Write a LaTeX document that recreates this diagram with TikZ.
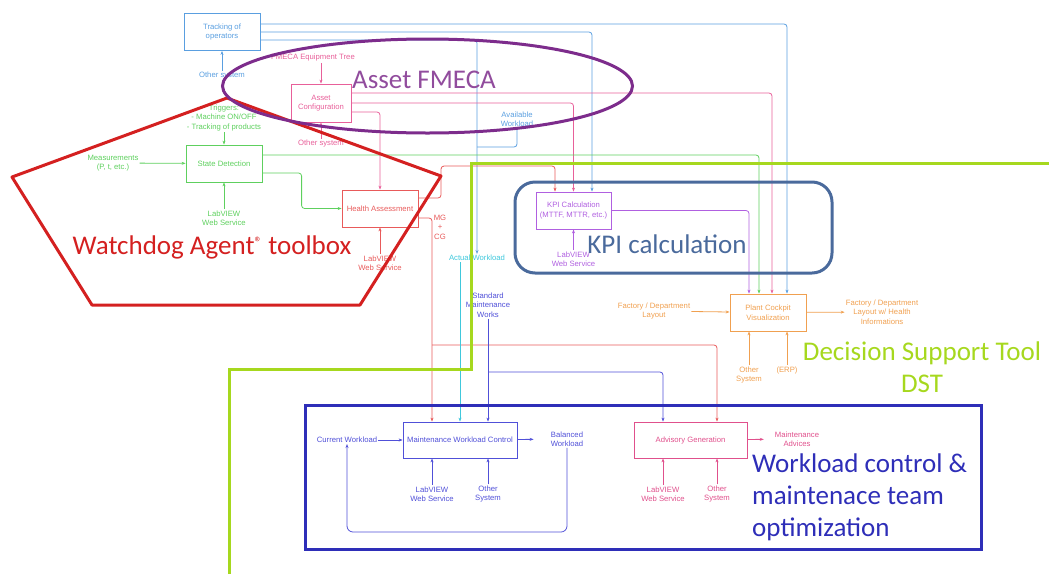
\documentclass[tikz,border=0pt]{standalone}
\usepackage{fontspec}
\setmainfont{Liberation Sans}
\newfontfamily\calibri{Carlito}
\usetikzlibrary{arrows.meta}

\definecolor{opblue}{HTML}{5A9FE0}
\definecolor{fmpink}{HTML}{E8609A}
\definecolor{sdgreen}{HTML}{5ED05E}
\definecolor{hared}{HTML}{E85A5A}
\definecolor{kpipurple}{HTML}{B060E0}
\definecolor{pcorange}{HTML}{F0A050}
\definecolor{mwcblue}{HTML}{5050D8}
\definecolor{awcyan}{HTML}{40C8DC}
\definecolor{agpink}{HTML}{E0508C}
\definecolor{assetpurple}{HTML}{7D2C8C}
\definecolor{wdred}{HTML}{D42020}
\definecolor{kpiframe}{HTML}{4A6A9C}
\definecolor{dstgreen}{HTML}{A6D81E}
\definecolor{wlblue}{HTML}{2E2EB8}

\begin{document}
\begin{tikzpicture}[x=1pt,y=-1pt,>={Stealth[length=4pt,width=3pt]},
  lbl/.style={font=\fontsize{7.7}{9.5}\selectfont,align=center,inner sep=1pt},
  blk/.style={lbl,draw,line width=.8pt,minimum width=#1,minimum height=37},
  ln/.style={line width=.8pt,rounded corners=3pt},
  big/.style={font=\calibri\fontsize{27}{32}\selectfont,inner sep=0pt}]
  \useasboundingbox (0,0) rectangle (1049,574);
  % Tracking
  \node[blk=76,draw=opblue,text=opblue] (trk) at (222,32) {Tracking of\\operators};
  \node[lbl,text=opblue] (osA) at (222,76) {Other system};
  \draw[->,ln,opblue] (osA) -- (trk);
  % Asset FMECA
  \node[lbl,text=fmpink] (fmt) at (313,58) {FMECA Equipment Tree};
  \node[blk=60,draw=fmpink,text=fmpink,minimum height=38] (ac) at (321,103) {Asset\\Configuration};
  \node[lbl,text=fmpink] (osB) at (321,144) {Other system};
  \draw[->,ln,fmpink] (fmt.south -| ac.north) -- (ac.north);
  \draw[->,ln,fmpink] (osB) -- (ac);
  % Watchdog
  \node[blk=76,draw=sdgreen,text=sdgreen] (sd) at (224,163.5) {State Detection};
  \node[lbl,text=sdgreen] (trig) at (224,118) {Triggers:\\- Machine ON/OFF\\- Tracking of products};
  \node[lbl,text=sdgreen] (meas) at (113,163) {Measurements\\(P, t, etc.)};
  \node[lbl,text=sdgreen] (lvA) at (224,218) {LabVIEW\\Web Service};
  \draw[->,ln,sdgreen] (trig) -- (sd);
  \draw[->,ln,sdgreen] (meas) -- (sd);
  \draw[->,ln,sdgreen] (lvA) -- (sd);
  \node[blk=76,draw=hared,text=hared] (ha) at (380,208.5) {Health Assessment};
  \node[lbl,text=hared] (lvB) at (380,263) {LabVIEW\\Web Service};
  \node[lbl,text=hared] (mgcg) at (440,227) {MG\\+\\CG};
  \draw[->,ln,hared] (lvB) -- (ha);
  \draw[->,ln,sdgreen] ([yshift=-9.5pt]sd.east) -| ([xshift=-40pt]ha.west) -- (ha.west);
  % KPI
  \node[blk=75,draw=kpipurple,text=kpipurple] (kpi) at (573.5,210.5) {KPI Calculation\\(MTTF, MTTR, etc.)};
  \node[lbl,text=kpipurple] (lvC) at (573.5,259) {LabVIEW\\Web Service};
  \draw[->,ln,kpipurple] (lvC) -- (kpi);
  % Workload
  \node[lbl,text=opblue] (avw) at (517,119) {Available\\Workload};
  \node[lbl,text=awcyan] (acw) at (477,258) {Actual Workload};
  \node[lbl,text=mwcblue] (smw) at (488,305) {Standard\\Maintenance\\Works};
  \coordinate (awj) at (477,147);
  \draw[ln,opblue] (avw.south) |- (awj);
  % DST
  \node[blk=76,draw=pcorange,text=pcorange] (pcv) at (768,312.5) {Plant Cockpit\\Visualization};
  \node[lbl,text=pcorange] (fdl) at (654,311) {Factory / Department\\Layout};
  \node[lbl,text=pcorange] (fdlh) at (882,312) {Factory / Department\\Layout w/ Health\\Informations};
  \node[lbl,text=pcorange] (osC) at (749,375) {Other\\System};
  \node[lbl,text=pcorange] (erp) at (787,370) {(ERP)};
  \draw[->,ln,pcorange] (fdl) -- (pcv);
  \draw[->,ln,pcorange] (pcv) -- (fdlh);
  \draw[->,ln,pcorange] (osC) -- (osC |- pcv.south);
  \draw[->,ln,pcorange] (erp) -- (erp |- pcv.south);
  % Workload control
  \node[blk=114,draw=mwcblue,text=mwcblue,minimum height=36] (mwc) at (460,440) {Maintenance Workload Control};
  \node[lbl,text=mwcblue] (cw) at (347,440) {Current Workload};
  \node[lbl,text=mwcblue] (bw) at (567,439) {Balanced\\Workload};
  \node[lbl,text=mwcblue] (lvD) at (432,494) {LabVIEW\\Web Service};
  \node[lbl,text=mwcblue] (osD) at (488,494) {Other\\System};
  \draw[->,ln,mwcblue] (cw) -- (mwc);
  \draw[->,ln,mwcblue,shorten >=16pt] (mwc) -- (bw);
  \draw[->,ln,mwcblue] (lvD) -- (lvD |- mwc.south);
  \draw[->,ln,mwcblue] (osD) -- (osD |- mwc.south);
  \coordinate (lp) at (457,532);
  \draw[->,ln,mwcblue,rounded corners=6pt] (bw.south) |- (lp) -| (cw.south);
  \node[blk=113,draw=agpink,text=agpink,minimum height=36] (ag) at (690.5,440) {Advisory Generation};
  \node[lbl,text=agpink] (ma) at (797,439) {Maintenance\\Advices};
  \node[lbl,text=agpink] (lvE) at (663,494) {LabVIEW\\Web Service};
  \node[lbl,text=agpink] (osE) at (717,494) {Other\\System};
  \draw[->,ln,agpink,shorten >=10pt] (ag) -- (ma);
  \draw[->,ln,agpink] (lvE) -- (lvE |- ag.south);
  \draw[->,ln,agpink] (osE) -- (osE |- ag.south);
  % Verbindungen
  \draw[->,ln,opblue] ([yshift=8pt]trk.east) -| ([xshift=19pt]pcv.north);
  \draw[->,ln,opblue] (trk.east) -| ([xshift=18.5pt]kpi.north);
  \draw[->,ln,opblue] ([yshift=-8pt]trk.east) -| (acw.north);
  \draw[->,ln,fmpink] ([yshift=10pt]ac.east) -| ([xshift=4pt]pcv.north);
  \draw[->,ln,fmpink] (ac.east) -| (kpi.north);
  \draw[->,ln,fmpink] ([yshift=-9pt]ac.east) -| (ha.north);
  \draw[->,ln,sdgreen] ([yshift=8.5pt]sd.east) -| ([xshift=-9pt]pcv.north);
  \draw[->,ln,kpipurple] (kpi.east) -| ([xshift=-19pt]pcv.north);
  \coordinate (hk) at (441,166);
  \draw[->,ln,hared] ([yshift=10.5pt]ha.east) -| (hk) -| ([xshift=-18.5pt]kpi.north);
  \draw[->,ln,hared] ([yshift=-9.5pt]ha.east) -| ([xshift=-28pt]mwc.north);
  \coordinate (hm) at (432,345);
  \draw[->,ln,hared] (hm) -| ([xshift=26.5pt]ag.north);
  \draw[->,ln,awcyan] (acw.south -| mwc.north) -- (mwc.north);
  \draw[->,ln,mwcblue] (smw.south) -- ([xshift=28pt]mwc.north);
  \coordinate (sm) at (488,372);
  \draw[->,ln,mwcblue] (sm) -| ([xshift=-27.5pt]ag.north);
  % Rahmen
  \draw[wdred,line width=3pt,line join=round] (12,177) -- (227,98) -- (441,176) -- (360,305) -- (92,305) -- cycle;
  \draw[assetpurple,line width=3pt] (427.5,86) ellipse [x radius=205pt,y radius=47pt];
  \draw[kpiframe,line width=3pt,rounded corners=20pt] (515,182) rectangle (832,273);
  \draw[dstgreen,line width=3pt] (229,574) -- (229,369) -- (471,369) -- (471,163) -- (1049,163);
  \draw[wlblue,line width=3pt] (305,405) rectangle (981,549);
  \node[big,text=wdred] (wdt) at (212,247) {Watchdog Agent\raisebox{7pt}{\fontsize{15}{15}\selectfont ®} toolbox};
  \node[big,text=assetpurple!85] (aft) at (424,80) {Asset FMECA};
  \node[big,text=kpiframe] (kct) at (667,244) {KPI calculation};
  \node[big,text=dstgreen,align=center] (dstt) at (922,367) {Decision Support Tool\\DST};
  \node[big,text=wlblue,align=left,anchor=west] (wlt) at (752,497) {Workload control \&\\maintenace team\\optimization};
\end{tikzpicture}
\end{document}
